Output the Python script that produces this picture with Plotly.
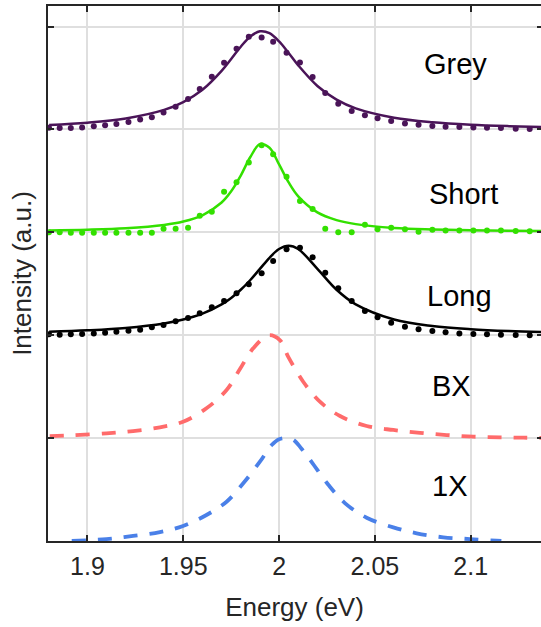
import plotly.graph_objects as go

# ---- measured data (dots share one energy grid) ----
energy_pts = [1.8799, 1.8855, 1.8913, 1.8972, 1.9033, 1.9092, 1.9151, 1.9214, 1.9275, 1.9336,
              1.9397, 1.9460, 1.9525, 1.9586, 1.9649, 1.9713, 1.9778, 1.9842, 1.9909, 1.9969,
              2.0039, 2.0109, 2.0175, 2.0241, 2.0309, 2.0379, 2.0448, 2.0514, 2.0585, 2.0657,
              2.0728, 2.0800, 2.0869, 2.0941, 2.1014, 2.1085, 2.1158, 2.1235, 2.1308]

grey_pts = [4.017, 4.014, 4.014, 4.020, 4.030, 4.040, 4.052, 4.072, 4.098, 4.118,
            4.166, 4.221, 4.295, 4.393, 4.512, 4.648, 4.784, 4.901, 4.895, 4.852,
            4.745, 4.652, 4.509, 4.354, 4.250, 4.179, 4.137, 4.108, 4.082, 4.059,
            4.046, 4.033, 4.026, 4.023, 4.020, 4.017, 4.014, 4.007, 4.004]

short_pts = [3.000, 3.000, 2.996, 2.996, 2.996, 2.996, 2.996, 2.996, 2.996, 2.996,
             3.035, 3.035, 3.045, 3.161, 3.200, 3.395, 3.486, 3.680, 3.846, 3.758,
             3.540, 3.304, 3.226, 3.035, 3.000, 3.000, 3.074, 3.029, 3.045, 3.029,
             3.006, 3.025, 3.019, 3.019, 3.019, 3.019, 3.019, 3.013, 3.010]

long_pts = [2.009, 2.005, 2.009, 2.012, 2.018, 2.024, 2.034, 2.044, 2.053, 2.077,
            2.099, 2.135, 2.167, 2.213, 2.271, 2.332, 2.407, 2.495, 2.602, 2.721,
            2.835, 2.850, 2.757, 2.607, 2.456, 2.332, 2.235, 2.174, 2.121, 2.083,
            2.057, 2.041, 2.028, 2.018, 2.012, 2.009, 2.005, 2.002, 1.999]

# ---- fitted curves ----
fit_energy = [1.88, 1.90, 1.92, 1.94, 1.95, 1.96, 1.97, 1.975, 1.98, 1.985, 1.99, 1.995,
              2.00, 2.005, 2.01, 2.02, 2.03, 2.04, 2.06, 2.08, 2.10, 2.12, 2.14]
grey_fit = [4.044, 4.066, 4.107, 4.190, 4.266, 4.385, 4.569, 4.685, 4.804, 4.904, 4.954, 4.936,
            4.856, 4.743, 4.623, 4.423, 4.290, 4.205, 4.114, 4.070, 4.046, 4.032, 4.023]
short_fit = [3.019, 3.026, 3.040, 3.072, 3.105, 3.166, 3.290, 3.399, 3.552, 3.732, 3.857, 3.822,
             3.660, 3.485, 3.350, 3.194, 3.119, 3.080, 3.043, 3.028, 3.020, 3.015, 3.012]
long_fit = [2.034, 2.048, 2.071, 2.115, 2.153, 2.210, 2.300, 2.363, 2.442, 2.537, 2.645, 2.753,
            2.838, 2.870, 2.838, 2.645, 2.442, 2.300, 2.153, 2.090, 2.058, 2.040, 2.030]

# ---- simulated spectra (dashed) ----
bx_energy = [1.8803, 1.8925, 1.9099, 1.9238, 1.9378, 1.9499, 1.9621, 1.9726, 1.9795, 1.9865,
             1.9945, 2.0004, 2.0048, 2.0126, 2.0213, 2.0318, 2.0457, 2.0596, 2.0735, 2.0875,
             2.1014, 2.1153, 2.1275, 2.1367]
bx_sim = [1.020, 1.027, 1.047, 1.069, 1.105, 1.159, 1.290, 1.467, 1.669, 1.873,
          2.000, 1.953, 1.790, 1.548, 1.354, 1.215, 1.118, 1.079, 1.052, 1.030,
          1.014, 1.008, 1.004, 1.002]

x1_energy = [1.8918, 1.9099, 1.9238, 1.9378, 1.9499, 1.9621, 1.9726, 1.9813, 1.9900, 1.9960,
             2.0000, 2.0035, 2.0073, 2.0116, 2.0175, 2.0258, 2.0345, 2.0457, 2.0596, 2.0718,
             2.0857, 2.0996, 2.1135, 2.1160]
x1_sim = [0.0, 0.019, 0.049, 0.087, 0.146, 0.253, 0.382, 0.561, 0.771, 0.93,
          0.99, 1.0, 0.985, 0.90, 0.755, 0.544, 0.366, 0.226, 0.133, 0.075,
          0.036, 0.019, 0.003, 0.0]

x_ticks = [1.9, 1.95, 2.0, 2.05, 2.1]
x_ticktext = ["1.9", "1.95", "2", "2.05", "2.1"]
y_ticks = [0, 1, 2, 3, 4, 5]

labels = ["Grey", "Short", "Long", "BX", "1X"]
label_x = [2.0923, 2.0960, 2.0944, 2.0898, 2.0888]
label_y = [4.634, 3.377, 2.381, 1.508, 0.539]

GREY_C = "#4a1458"
SHORT_C = "#33e000"
LONG_C = "#000000"
BX_C = "#ff6b6b"
X1_C = "#4a80e8"
FONT = "Liberation Sans, Arial, Helvetica, sans-serif"
AX = "#262626"

fig = go.Figure()

# dashed simulations
fig.add_trace(go.Scatter(x=bx_energy, y=bx_sim, mode="lines",
                         line=dict(color=BX_C, width=3.8, dash="14px,12px", shape="spline"),
                         hoverinfo="skip"))
fig.add_trace(go.Scatter(x=x1_energy, y=x1_sim, mode="lines",
                         line=dict(color=X1_C, width=3.8, dash="14px,12px", shape="spline"),
                         hoverinfo="skip"))

# fits
for yv, c in [(grey_fit, GREY_C), (short_fit, SHORT_C), (long_fit, LONG_C)]:
    fig.add_trace(go.Scatter(x=fit_energy, y=yv, mode="lines",
                             line=dict(color=c, width=2.5, shape="spline"), hoverinfo="skip"))

# data points
for yv, c in [(grey_pts, GREY_C), (short_pts, SHORT_C), (long_pts, LONG_C)]:
    fig.add_trace(go.Scatter(x=energy_pts, y=yv, mode="markers",
                             marker=dict(color=c, size=6, line=dict(width=0)), hoverinfo="skip"))

# empty trace so the right-hand tick axis is drawn
fig.add_trace(go.Scatter(x=[], y=[], yaxis="y2", hoverinfo="skip"))

for t, xx, yy in zip(labels, label_x, label_y):
    fig.add_annotation(x=xx, y=yy, xref="x", yref="y", text=t, showarrow=False,
                       xanchor="center", yanchor="middle",
                       font=dict(family=FONT, size=29, color="#000000"))

fig.update_layout(
    width=541, height=627,
    margin=dict(l=48, r=0, t=6, b=86),
    paper_bgcolor="white", plot_bgcolor="white",
    showlegend=False,
    font=dict(family=FONT, color=AX),
    xaxis=dict(range=[1.8794, 2.1367], tickvals=x_ticks, ticktext=x_ticktext,
               ticks="inside", ticklen=6, tickwidth=2, tickcolor=AX,
               showline=True, linecolor=AX, linewidth=2, mirror="ticks",
               showgrid=True, gridcolor="#dfdfdf", gridwidth=2, zeroline=False,
               tickfont=dict(family=FONT, size=25, color=AX), ticklabelstandoff=2,
               title=dict(text="Energy (eV)", font=dict(family=FONT, size=26, color=AX), standoff=19),
               automargin=False),
    yaxis=dict(range=[0, 5.2], tickvals=y_ticks, showticklabels=False,
               ticks="inside", ticklen=6, tickwidth=2, tickcolor=AX,
               showline=True, linecolor=AX, linewidth=2, mirror=False,
               showgrid=True, gridcolor="#dfdfdf", gridwidth=2, zeroline=False,
               title=dict(text="Intensity (a.u.)", font=dict(family=FONT, size=26, color=AX), standoff=7),
               automargin=False),
    yaxis2=dict(range=[0, 5.2], tickvals=y_ticks, showticklabels=False, overlaying="y",
                side="right", ticks="inside", ticklen=4, tickwidth=2, tickcolor=AX,
                showline=False, showgrid=False, zeroline=False, automargin=False),
)

fig.write_html("out.html", config={"displayModeBar": False},
               post_script="document.body.style.margin='0';document.body.style.overflow='hidden';")
